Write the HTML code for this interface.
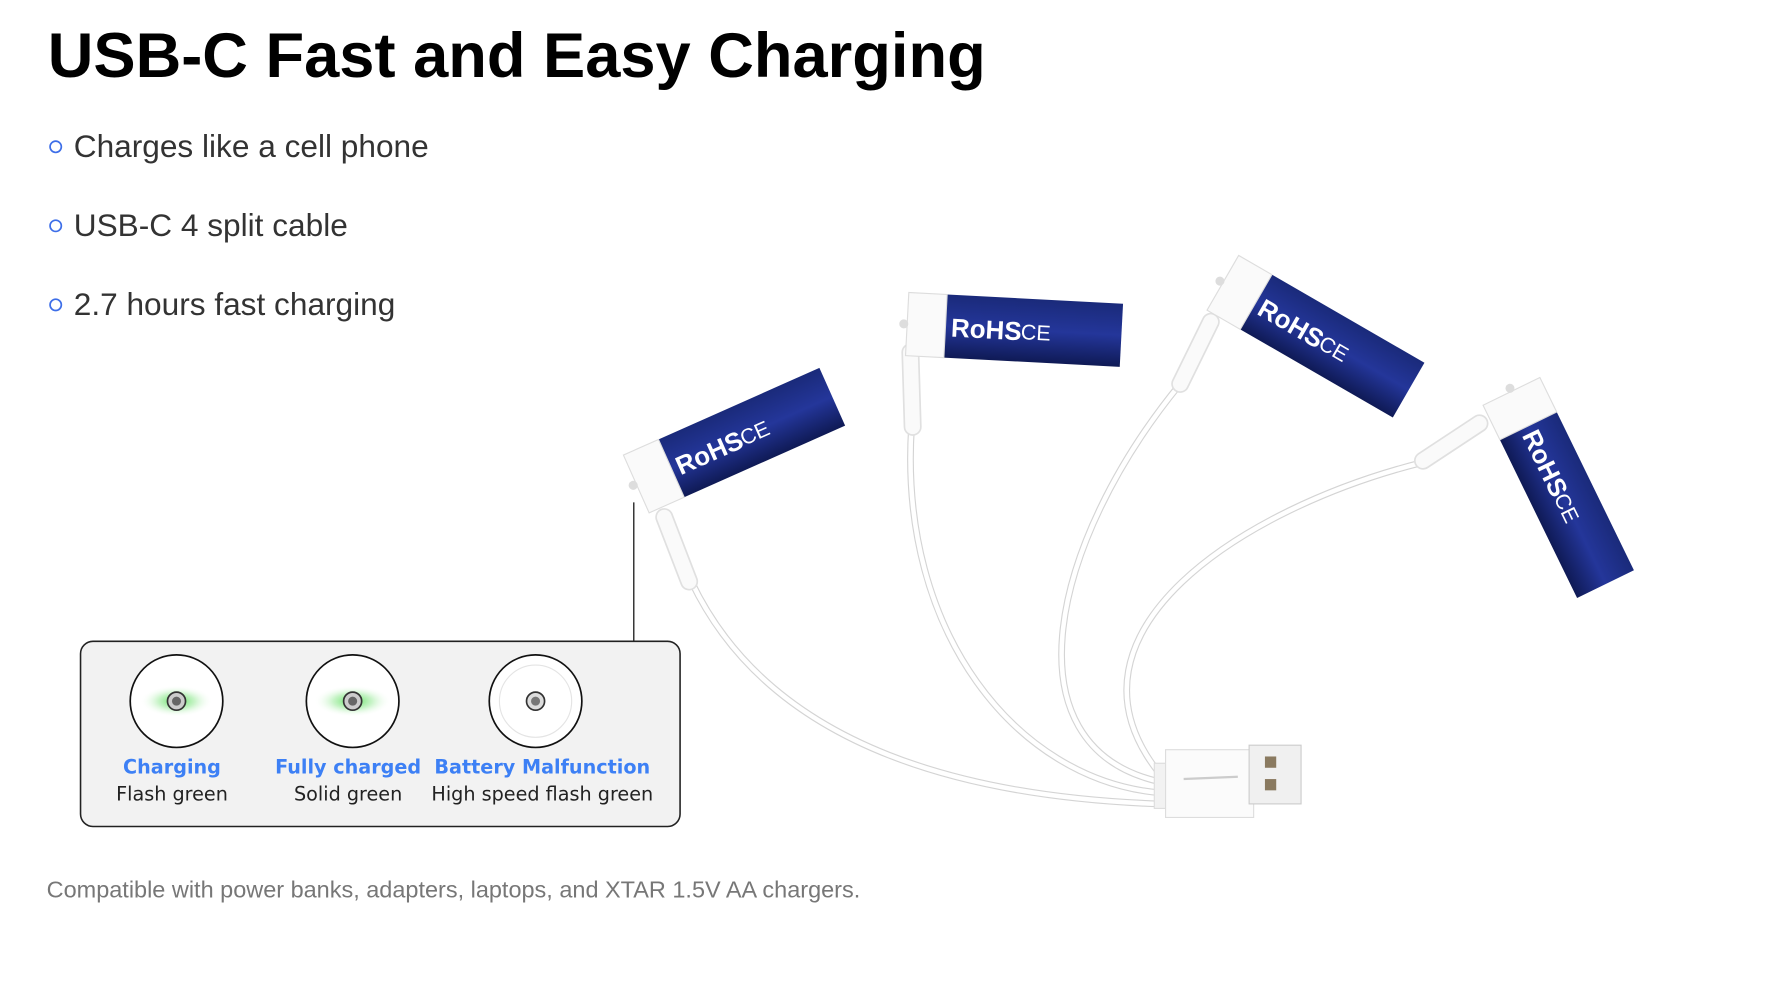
<!DOCTYPE html>
<html><head><meta charset="utf-8"><style>
html,body{margin:0;padding:0;background:#fff;}
svg{display:block}
</style></head><body>
<svg width="1770" height="1006" viewBox="0 0 1567 891" xmlns="http://www.w3.org/2000/svg" font-family="Liberation Sans, sans-serif">
<defs>
<radialGradient id="g" cx="50%" cy="50%" r="50%"><stop offset="0" stop-color="#3ddc3d" stop-opacity="0.9"/><stop offset="0.5" stop-color="#8fe88f" stop-opacity="0.5"/><stop offset="1" stop-color="#fff" stop-opacity="0"/></radialGradient>
<linearGradient id="bat" x1="0" y1="0" x2="0" y2="1"><stop offset="0" stop-color="#1a2a7a"/><stop offset="0.5" stop-color="#24369a"/><stop offset="1" stop-color="#0f1a55"/></linearGradient>
<g id="battery">
  <rect x="-95" y="-28" width="190" height="56" fill="url(#bat)"/>
  <rect x="-95" y="-28" width="34" height="56" fill="#fafafa" stroke="#ddd" stroke-width="1"/>
  <text x="-56" y="9" font-size="23" font-weight="bold" fill="#fff">RoHS</text>
  <text x="6" y="8" font-size="19" fill="#fff">CE</text>
  <circle cx="-98" cy="0" r="4" fill="#ddd"/>
</g>
</defs>
<text x="42" y="68" font-size="56" font-weight="bold" fill="#000">USB-C Fast and Easy Charging</text>
<g font-size="28" fill="#333">
<circle cx="49" cy="130" r="5" fill="none" stroke="#3d6ee8" stroke-width="1.5"/><text x="65" y="139">Charges like a cell phone</text>
<circle cx="49" cy="200" r="5" fill="none" stroke="#3d6ee8" stroke-width="1.5"/><text x="65" y="209">USB-C 4 split cable</text>
<circle cx="49" cy="270" r="5" fill="none" stroke="#3d6ee8" stroke-width="1.5"/><text x="65" y="279">2.7 hours fast charging</text>
</g>
<text x="41" y="795" font-size="20.8" fill="#777">Compatible with power banks, adapters, laptops, and XTAR 1.5V AA chargers.</text>
<!-- cables -->
<g fill="none" stroke-linecap="round">
<g stroke="#d4d4d4" stroke-width="6">
<path d="M612 515 Q700 700 1025 712"/>
<path d="M807 378 C795 560 900 690 1025 702"/>
<path d="M1045 340 C930 480 890 660 1025 692"/>
<path d="M1258 410 C1100 450 930 560 1025 683"/>
</g>
<g stroke="#fff" stroke-width="4">
<path d="M612 515 Q700 700 1025 712"/>
<path d="M807 378 C795 560 900 690 1025 702"/>
<path d="M1045 340 C930 480 890 660 1025 692"/>
<path d="M1258 410 C1100 450 930 560 1025 683"/>
</g>
<g stroke="#e0e0e0" stroke-width="16">
<path d="M588 458 L610 515"/><path d="M806 312 L808 378"/><path d="M1072 285 L1045 340"/><path d="M1310 375 L1260 408"/>
</g>
<g stroke="#fafafa" stroke-width="13">
<path d="M588 458 L610 515"/><path d="M806 312 L808 378"/><path d="M1072 285 L1045 340"/><path d="M1310 375 L1260 408"/>
</g>
</g>
<!-- usb -->
<rect x="1022" y="676" width="14" height="40" fill="#f2f2f2" stroke="#ddd"/>
<rect x="1032" y="664" width="78" height="60" fill="#fbfbfb" stroke="#ddd"/>
<rect x="1106" y="660" width="46" height="52" fill="#f0f0f0" stroke="#ccc"/>
<rect x="1120" y="670" width="10" height="10" fill="#8a7a60"/><rect x="1120" y="690" width="10" height="10" fill="#8a7a60"/>
<path d="M1048 690 L1096 688" stroke="#ccc" stroke-width="2"/>
<!-- batteries -->
<use href="#battery" transform="translate(650,390) rotate(-24)"/>
<use href="#battery" transform="translate(898,292) rotate(3)"/>
<use href="#battery" transform="translate(1165,298) rotate(30)"/>
<use href="#battery" transform="translate(1380,432) rotate(64)"/>
<!-- callout -->
<line x1="561" y1="445" x2="561" y2="568" stroke="#222" stroke-width="1.2"/>
<rect x="71" y="568" width="531" height="164" rx="11" fill="#f2f2f2" stroke="#222" stroke-width="1.4"/>
<g>
<circle cx="156" cy="621" r="41" fill="#fff" stroke="#111" stroke-width="1.5"/>
<ellipse cx="156" cy="621" rx="32" ry="14" fill="url(#g)"/>
<circle cx="156" cy="621" r="8" fill="#ccc" stroke="#333" stroke-width="1.5"/><circle cx="156" cy="621" r="4" fill="#666"/>
<circle cx="312" cy="621" r="41" fill="#fff" stroke="#111" stroke-width="1.5"/>
<ellipse cx="312" cy="621" rx="34" ry="14" fill="url(#g)"/>
<circle cx="312" cy="621" r="8" fill="#ccc" stroke="#333" stroke-width="1.5"/><circle cx="312" cy="621" r="4" fill="#666"/>
<circle cx="474" cy="621" r="41" fill="#fff" stroke="#111" stroke-width="1.5"/>
<circle cx="474" cy="621" r="32" fill="none" stroke="#e4e4e4"/>
<circle cx="474" cy="621" r="8" fill="#ddd" stroke="#333" stroke-width="1.5"/><circle cx="474" cy="621" r="4" fill="#777"/>
</g>
<g text-anchor="middle" font-family="DejaVu Sans, Liberation Sans, sans-serif">
<text x="152" y="685" fill="#3d80f5" font-weight="bold" font-size="17">Charging</text>
<text x="308" y="685" fill="#3d80f5" font-weight="bold" font-size="17">Fully charged</text>
<text x="480" y="685" fill="#3d80f5" font-weight="bold" font-size="17">Battery Malfunction</text>
<text x="152" y="709" fill="#222" font-size="17">Flash green</text>
<text x="308" y="709" fill="#222" font-size="17">Solid green</text>
<text x="480" y="709" fill="#222" font-size="17">High speed flash green</text>
</g>
</svg>
</body></html>
